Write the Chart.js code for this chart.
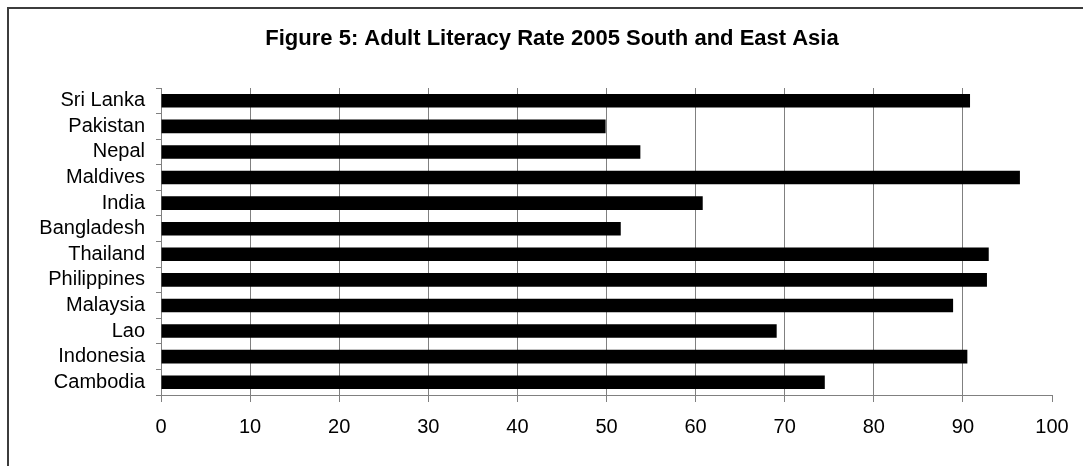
<!DOCTYPE html>
<html>
<head>
<meta charset="utf-8">
<title>Adult Literacy Rate 2005</title>
<script src="https://cdn.jsdelivr.net/npm/chart.js@4.4.1/dist/chart.umd.min.js"></script>
<style>
  html, body { margin: 0; padding: 0; background: #fff; overflow: hidden; }
  #wrap { position: relative; width: 1083px; height: 466px; }
  #frame { position: absolute; left: 7px; top: 7px; width: 1200px; height: 600px; border: 2px solid #3c3c3c; }
  canvas { position: absolute; left: 0; top: 0; }
</style>
</head>
<body>
<div id="wrap">
  <div id="frame"></div>
  <canvas id="chart" width="1083" height="466"></canvas>
</div>
<script>
const countries = ['Sri Lanka', 'Pakistan', 'Nepal', 'Maldives', 'India', 'Bangladesh',
  'Thailand', 'Philippines', 'Malaysia', 'Lao', 'Indonesia', 'Cambodia'];
const literacyRate = [90.8, 49.9, 53.8, 96.4, 60.8, 51.6, 92.9, 92.7, 88.9, 69.1, 90.5, 74.5];
const xMin = 0;
const xMax = 100;
const xStep = 10;
const chartTitle = 'Figure 5: Adult Literacy Rate 2005 South and East Asia';

const font = '"Liberation Sans", Arial, sans-serif';
const gridGray = '#808080';

Chart.defaults.font.family = font;

// draws the heading centred over the whole framed chart
const titlePlugin = {
  id: 'figTitle',
  afterDraw(chart) {
    const c = chart.ctx;
    c.save();
    c.font = 'bold 22px ' + font;
    c.fillStyle = '#000';
    c.textAlign = 'center';
    c.textBaseline = 'alphabetic';
    c.fillText(chartTitle, 552, 45);
    c.restore();
  }
};

const ctx = document.getElementById('chart');

new Chart(ctx, {
  type: 'bar',
  data: {
    labels: countries,
    datasets: [{
      label: 'Adult literacy rate',
      data: literacyRate,
      backgroundColor: '#000',
      barPercentage: 0.53,
      categoryPercentage: 1.0
    }]
  },
  options: {
    indexAxis: 'y',
    responsive: false,
    animation: false,
    layout: { padding: { top: 88, right: 31, bottom: 0, left: 0 } },
    plugins: {
      legend: { display: false },
      tooltip: { enabled: false },
      title: { display: false }
    },
    scales: {
      x: {
        type: 'linear',
        min: xMin,
        max: xMax,
        ticks: { stepSize: xStep, color: '#000', font: { size: 20 }, padding: 13 },
        grid: {
          color: (c) => (c.tick && c.tick.value === xMax) ? 'rgba(0,0,0,0)' : gridGray,
          tickColor: gridGray,
          tickLength: 7,
          lineWidth: 1
        },
        border: { color: gridGray },
        afterFit: (scale) => { scale.height = 71; }
      },
      y: {
        type: 'category',
        offset: true,
        ticks: { color: '#000', font: { size: 20 }, padding: 11, autoSkip: false },
        grid: {
          offset: true,
          drawOnChartArea: false,
          tickLength: 5,
          color: gridGray
        },
        border: { color: gridGray },
        afterFit: (scale) => { scale.width = 161; }
      }
    }
  },
  plugins: [titlePlugin]
});
</script>
</body>
</html>
